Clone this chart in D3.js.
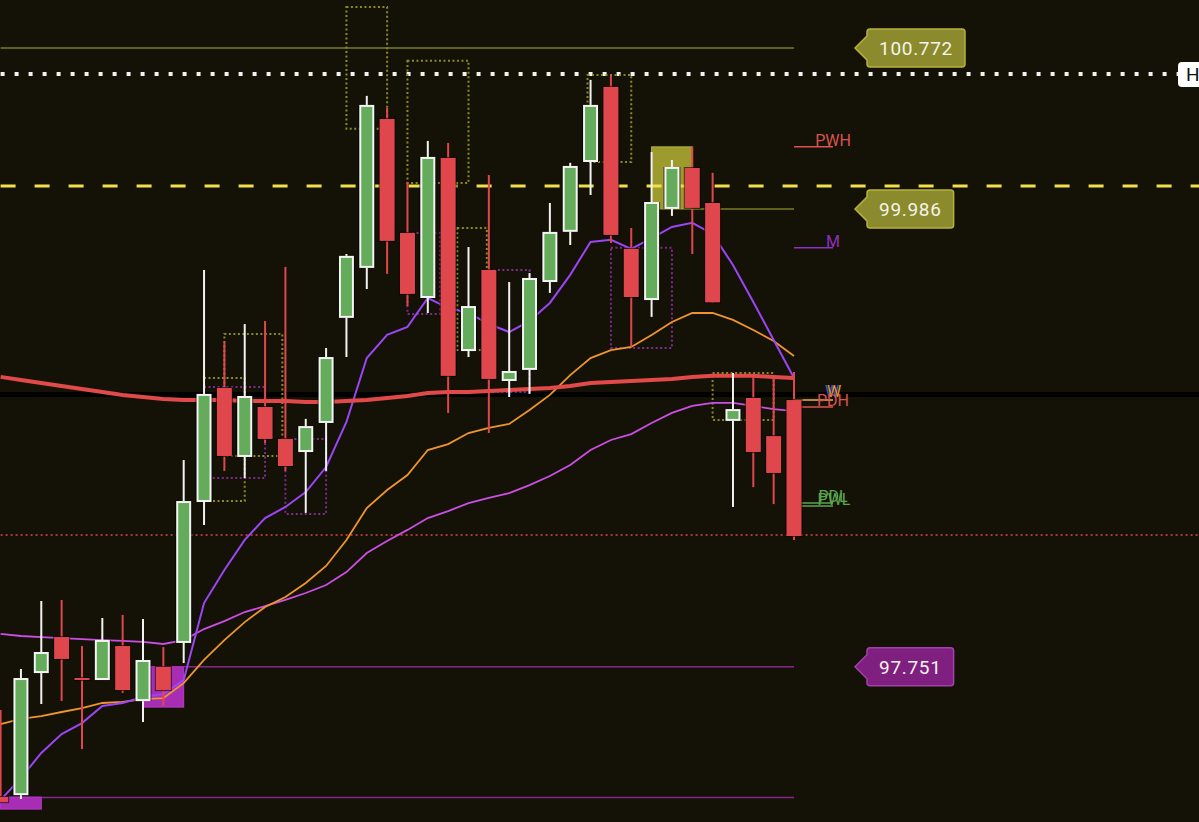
<!DOCTYPE html>
<html>
<head>
<meta charset="utf-8">
<script src="https://cdn.jsdelivr.net/npm/d3@7"></script>
<style>
html, body { margin: 0; padding: 0; background: #141206; overflow: hidden; }
svg { display: block; }
</style>
</head>
<body>
<svg id="chart" width="1199" height="822"></svg>
<script>
// candles, oldest first
var opens  = [97.115, 97.129, 97.725, 97.896, 97.696, 97.691, 97.852, 97.588, 97.750, 97.872,
              98.560, 99.112, 98.780, 99.019, 98.863, 98.804, 98.946, 99.459, 99.703, 100.425,
              99.869, 99.556, 100.235, 99.297, 99.688, 99.151, 99.205, 99.634, 99.879, 100.220,
              100.582, 99.791, 99.546, 99.991, 100.186, 100.015, 98.956, 99.063, 98.877, 99.053];
var highs  = [97.540, 97.740, 98.072, 98.077, 97.852, 97.989, 98.004, 97.984, 97.847, 98.760,
              99.688, 99.337, 99.424, 99.439, 99.703, 98.961, 99.307, 99.766, 100.538, 100.479,
              100.118, 100.318, 100.308, 99.800, 100.152, 99.629, 99.673, 100.015, 100.211, 100.616,
              100.640, 99.893, 100.264, 100.225, 100.289, 100.162, 99.185, 99.166, 99.161, 99.190];
var lows   = [97.090, 97.105, 97.569, 97.584, 97.349, 97.688, 97.623, 97.481, 97.559, 97.769,
              98.443, 98.707, 98.672, 98.843, 98.707, 98.502, 98.707, 99.263, 99.595, 99.669,
              99.512, 99.478, 98.990, 99.263, 98.892, 99.068, 99.083, 99.576, 99.810, 100.054,
              99.820, 99.312, 99.459, 99.952, 99.766, 99.527, 98.531, 98.628, 98.545, 98.370];
var closes = [97.090, 97.691, 97.818, 97.789, 97.691, 97.877, 97.637, 97.779, 97.637, 98.555,
              99.078, 98.780, 99.068, 98.863, 98.731, 98.921, 99.258, 99.752, 100.489, 99.830,
              99.571, 100.235, 99.171, 99.507, 99.156, 99.190, 99.644, 99.869, 100.191, 100.489,
              99.859, 99.556, 100.015, 100.186, 99.991, 99.530, 99.004, 98.799, 98.697, 98.389];

// moving averages
var maLong = [99.166, 99.151, 99.136, 99.122, 99.107, 99.092, 99.078, 99.068, 99.058, 99.053,
              99.053, 99.053, 99.048, 99.048, 99.048, 99.044, 99.044, 99.048, 99.053, 99.063,
              99.073, 99.087, 99.092, 99.092, 99.097, 99.102, 99.107, 99.112, 99.122, 99.136,
              99.141, 99.146, 99.151, 99.156, 99.166, 99.171, 99.171, 99.171, 99.166, 99.161];
var maFast = [97.100, 97.208, 97.330, 97.422, 97.476, 97.559, 97.574, 97.603, 97.618, 97.686,
              98.062, 98.223, 98.370, 98.477, 98.531, 98.604, 98.726, 98.946, 99.258, 99.371,
              99.410, 99.551, 99.503, 99.478, 99.424, 99.385, 99.439, 99.527, 99.664, 99.825,
              99.835, 99.791, 99.844, 99.898, 99.918, 99.864, 99.712, 99.532, 99.346, 99.161];
var maMid  = [97.471, 97.496, 97.510, 97.530, 97.549, 97.574, 97.579, 97.593, 97.598, 97.671,
              97.784, 97.881, 97.969, 98.043, 98.091, 98.160, 98.243, 98.370, 98.526, 98.614,
              98.687, 98.809, 98.838, 98.892, 98.917, 98.936, 99.004, 99.078, 99.175, 99.258,
              99.297, 99.312, 99.371, 99.434, 99.478, 99.478, 99.444, 99.395, 99.341, 99.268];
var maSlow = [97.911, 97.901, 97.896, 97.891, 97.886, 97.881, 97.877, 97.872, 97.862, 97.881,
              97.935, 97.974, 98.018, 98.047, 98.077, 98.111, 98.150, 98.213, 98.306, 98.365,
              98.419, 98.477, 98.511, 98.550, 98.575, 98.599, 98.638, 98.682, 98.736, 98.809,
              98.858, 98.887, 98.941, 98.990, 99.024, 99.039, 99.039, 99.024, 99.009, 98.999];

// zones: [from index, to index, top price, bottom price, kind]
var filledZones = [[7, 9, 97.751, 97.554, "demand"],
                   [0, 2, 97.115, 97.056, "demand"],
                   [32, 34, 100.289, 99.986, "supply"]];
var dottedZones = [[10, 12, 99.161, 98.560, "supply"],
                   [10, 13, 99.117, 98.672, "demand"],
                   [11, 13.85, 99.376, 98.780, "supply"],
                   [14, 16, 98.863, 98.497, "demand"],
                   [17, 19, 100.972, 100.377, "supply"],
                   [20, 23, 100.709, 100.113, "supply"],
                   [20, 21.6, 99.869, 99.473, "demand"],
                   [22.45, 23.9, 99.893, 99.297, "supply"],
                   [24, 26, 99.688, 99.092, "demand"],
                   [28.85, 31, 100.640, 100.215, "supply"],
                   [30, 33, 99.796, 99.307, "demand"],
                   [35, 38, 99.185, 98.956, "supply"]];

// horizontal levels
var levelNames  = ["top", "H", "trigger", "mid", "band", "stop", "low", "base"];
var levelPrices = [100.772, 100.645, 100.098, 99.986, 99.080, 98.394, 97.751, 97.112];
var levelStart  = [0, 0, 0, 34, 0, 0, 9, 2];
var tagLabels   = ["100.772", "99.986", "97.751"];
var tagPrices   = [100.772, 99.986, 97.751];

// markers at right edge
var markerNames  = ["PWH", "M", "W", "W", "PDH", "PDL", "PWL"];
var markerPrices = [100.289, 99.796, 99.053, 99.053, 99.019, 98.550, 98.536];

var width = 1199, height = 822;
var svg = d3.select("#chart");

var x = d3.scaleLinear().domain([0, 39]).range([0.6, 794]);
var y = d3.scaleLinear().domain([96.993, 101.006]).range([height, 0]);
var lastX = x(opens.length - 1);

svg.append("rect").attr("width", width).attr("height", height).attr("fill", "#141206");

var zoneFill = {demand: "#a62db4", supply: "#9e9b2e"};
var zoneLine = {demand: "#7e2a8e", supply: "#8c8a22"};

// black band behind everything
var bandY = y(levelPrices[4]);
svg.append("line")
    .attr("x1", 0).attr("x2", width).attr("y1", bandY).attr("y2", bandY)
    .attr("stroke", "#000").attr("stroke-width", 5);

// filled zones
svg.append("g").selectAll("rect")
    .data(filledZones)
  .enter().append("rect")
    .attr("x", function(d) { return x(d[0]); })
    .attr("y", function(d) { return y(d[2]); })
    .attr("width", function(d) { return x(d[1]) - x(d[0]); })
    .attr("height", function(d) { return y(d[3]) - y(d[2]); })
    .attr("fill", function(d) { return zoneFill[d[4]]; })
    .attr("stroke", function(d) { return d[4] == "supply" ? "#b5b23c" : "#bb3acb"; })
    .attr("stroke-width", 1);

// level lines
var levelStyle = {
  top:     {color: "#7d7b26", w: 1.5, dash: null, toEdge: false},
  H:       {color: "#f2f2f2", w: 4, dash: "4,10", toEdge: true},
  trigger: {color: "#f2e04a", w: 3, dash: "15,19", toEdge: true},
  mid:     {color: "#7d7b26", w: 1.5, dash: null, toEdge: false},
  stop:    {color: "#d94848", w: 1.5, dash: "2,3", toEdge: true},
  low:     {color: "#86288a", w: 1.5, dash: null, toEdge: false},
  base:    {color: "#86288a", w: 1.5, dash: null, toEdge: false}
};
levelNames.forEach(function(name, i) {
  var s = levelStyle[name];
  if (!s) return;
  var ly = y(levelPrices[i]);
  svg.append("line")
      .attr("x1", x(levelStart[i])).attr("x2", s.toEdge ? (name == "H" ? 1178 : width) : lastX)
      .attr("y1", ly).attr("y2", ly)
      .attr("stroke", s.color).attr("stroke-width", s.w)
      .attr("stroke-dasharray", s.dash);
});

// dotted zones
svg.append("g").selectAll("rect")
    .data(dottedZones)
  .enter().append("rect")
    .attr("x", function(d) { return x(d[0]); })
    .attr("y", function(d) { return y(d[2]); })
    .attr("width", function(d) { return x(d[1]) - x(d[0]); })
    .attr("height", function(d) { return y(d[3]) - y(d[2]); })
    .attr("fill", "none")
    .attr("stroke", function(d) { return zoneLine[d[4]]; })
    .attr("stroke-width", 2)
    .attr("stroke-dasharray", "2,2.5");

// moving averages
var line = d3.line()
    .x(function(d, i) { return x(i); })
    .y(function(d) { return y(d); });

svg.append("path").datum(maSlow).attr("d", line)
    .attr("fill", "none").attr("stroke", "#cc4ee6").attr("stroke-width", 1.8);
svg.append("path").datum(maMid).attr("d", line)
    .attr("fill", "none").attr("stroke", "#f0952b").attr("stroke-width", 1.8);
svg.append("path").datum(maFast).attr("d", line)
    .attr("fill", "none").attr("stroke", "#9b45f5").attr("stroke-width", 2);
svg.append("path").datum(maLong).attr("d", line)
    .attr("fill", "none").attr("stroke", "#e24a4a").attr("stroke-width", 4);

// right edge markers
var markerColors = ["#d9534f", "#9030c0", "#3a5ad8", "#e8962a", "#d9534f", "#5aa550", "#5aa550"];
var markerNudge  = [0, 0, -1, 1, 0, 0, 1];
markerNames.forEach(function(name, i) {
  var my = y(markerPrices[i]);
  svg.append("line")
      .attr("x1", lastX).attr("x2", 833).attr("y1", my).attr("y2", my)
      .attr("stroke", markerColors[i]).attr("stroke-width", 1.5);
  svg.append("text")
      .attr("x", 833 + markerNudge[i]).attr("y", my - 1 - (name == "W" ? 2 : 0))
      .attr("text-anchor", "middle")
      .attr("font-family", "Roboto, sans-serif").attr("font-size", 16)
      .attr("fill", markerColors[i])
      .text(name);
});

// candles
var candles = opens.map(function(o, i) {
  return {i: i, o: o, h: highs[i], l: lows[i], c: closes[i]};
});

var cg = svg.append("g");
var g = cg.selectAll("g").data(candles).enter().append("g");

g.append("line")
    .attr("x1", function(d) { return x(d.i); })
    .attr("x2", function(d) { return x(d.i); })
    .attr("y1", function(d) { return y(d.h); })
    .attr("y2", function(d) { return y(d.l); })
    .attr("stroke", function(d) { return d.c >= d.o ? "#f2f2f2" : "#e0474d"; })
    .attr("stroke-width", 2);

// dark outline first
g.append("rect")
    .attr("x", function(d) { return x(d.i) - 8.5; })
    .attr("y", function(d) { return y(Math.max(d.o, d.c)) - 1; })
    .attr("width", 17)
    .attr("height", function(d) { return Math.max(2, Math.abs(y(d.o) - y(d.c))) + 2; })
    .attr("fill", "#000").attr("opacity", 0.6);

g.append("rect")
    .attr("x", function(d) { return x(d.i) - (d.c >= d.o ? 6.5 : 7.5); })
    .attr("y", function(d) { return y(Math.max(d.o, d.c)); })
    .attr("width", function(d) { return d.c >= d.o ? 13 : 15; })
    .attr("height", function(d) { return Math.max(2, Math.abs(y(d.o) - y(d.c))); })
    .attr("fill", function(d) { return d.c >= d.o ? "#64ac5c" : "#e0474d"; })
    .attr("stroke", function(d) { return d.c >= d.o ? "#f4f4f4" : "none"; })
    .attr("stroke-width", 2);

// price tags
function priceTag(price, label, fill, stroke) {
  var cy = y(price);
  var tg = svg.append("g");
  var left = 867;
  var t = tg.append("text")
      .attr("x", left + 12).attr("y", cy + 7)
      .attr("font-family", "Roboto, sans-serif").attr("font-size", 19)
      .attr("letter-spacing", 0.7)
      .attr("fill", "#f4f4ea")
      .text(label);
  var w = t.node().getComputedTextLength();
  var right = left + w + 24, top = cy - 19, bot = cy + 19, r = 3;
  var p = "M855," + cy + " L" + left + "," + (cy - 12) +
          " L" + left + "," + (top + r) + " Q" + left + "," + top + " " + (left + r) + "," + top +
          " L" + (right - r) + "," + top + " Q" + right + "," + top + " " + right + "," + (top + r) +
          " L" + right + "," + (bot - r) + " Q" + right + "," + bot + " " + (right - r) + "," + bot +
          " L" + (left + r) + "," + bot + " Q" + left + "," + bot + " " + left + "," + (bot - r) +
          " L" + left + "," + (cy + 12) + " Z";
  tg.insert("path", "text").attr("d", p)
      .attr("fill", fill).attr("stroke", stroke).attr("stroke-width", 1.5);
}
priceTag(tagPrices[0], tagLabels[0], "#8b8a2c", "#b5b23e");
priceTag(tagPrices[1], tagLabels[1], "#8b8a2c", "#b5b23e");
priceTag(tagPrices[2], tagLabels[2], "#7f1f80", "#a440ac");

// "H" tag at the far right
var hy = y(levelPrices[1]);
svg.append("rect")
    .attr("x", 1178).attr("y", hy - 12).attr("width", 40).attr("height", 25).attr("rx", 4)
    .attr("fill", "#ffffff");
svg.append("text")
    .attr("x", 1186).attr("y", hy + 7)
    .attr("font-family", "Roboto, sans-serif").attr("font-size", 19)
    .attr("fill", "#111")
    .text(levelNames[1]);
</script>
</body>
</html>
